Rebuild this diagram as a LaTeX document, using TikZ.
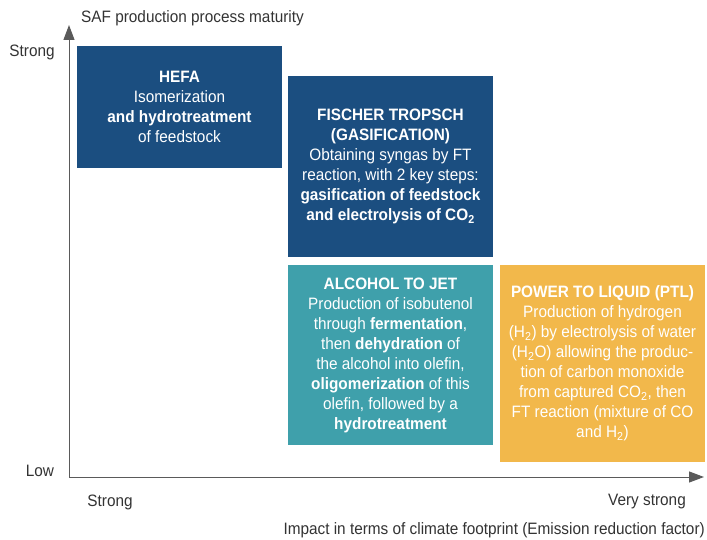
\documentclass[tikz,border=0pt]{standalone}
\usepackage{fontspec}
\setmainfont{Liberation Sans}[FakeStretch=0.93]
\usetikzlibrary{arrows.meta}
\definecolor{hefablue}{HTML}{1B4E80}
\definecolor{jetteal}{HTML}{3FA0AB}
\definecolor{ptlyellow}{HTML}{F2B84B}
\definecolor{axisgray}{HTML}{5A5A5A}
\definecolor{lblgray}{HTML}{333333}
\tikzset{
  procbox/.style={fill=#1, text=white, align=center, inner sep=0pt,
    minimum width=205pt, font=\fontsize{16.5}{20}\selectfont},
  axislbl/.style={text=lblgray, inner sep=0pt, font=\fontsize{16.5}{18}\selectfont},
}

\begin{document}
\begin{tikzpicture}[x=1pt, y=-1pt]
  \useasboundingbox (0,0) rectangle (707,540);
  \coordinate (orig) at (69,477);
  \coordinate (yend) at (69,25);
  \coordinate (xend) at (704,477);
  \draw[axisgray, line width=1pt, -{Triangle[length=15pt, width=11pt]}] (orig) -- (yend);
  \draw[axisgray, line width=1pt, -{Triangle[length=15pt, width=11pt]}] (orig) -- (xend);
  \node[procbox=hefablue, minimum height=122pt] (hefa) at (179.5,107)
    {\textbf{HEFA}\\Isomerization\\\textbf{and hydrotreatment}\\of feedstock};
  \node[procbox=hefablue, minimum height=181.5pt] (fischer) at (390.5,166.75)
    {\textbf{FISCHER TROPSCH}\\\textbf{(GASIFICATION)}\\Obtaining syngas by FT\\reaction, with 2 key steps:\\
     \textbf{gasification of feedstock}\\\textbf{and electrolysis of CO\textsubscript{2}}};
  \node[procbox=jetteal, minimum height=180pt] (alcohol) at (390.5,355)
    {\textbf{ALCOHOL TO JET}\\Production of isobutenol\\through \textbf{fermentation},\\then \textbf{dehydration} of\\
     the alcohol into olefin,\\\textbf{oligomerization} of this\\olefin, followed by a\\\textbf{hydrotreatment}};
  \node[procbox=ptlyellow, minimum height=197pt] (ptl) at (602.5,363.5)
    {\textbf{POWER TO LIQUID (PTL)}\\Production of hydrogen\\(H\textsubscript{2}) by electrolysis of water\\
     (H\textsubscript{2}O) allowing the produc-\\tion of carbon monoxide\\from captured CO\textsubscript{2}, then\\
     FT reaction (mixture of CO\\and H\textsubscript{2})};
  \node[axislbl, anchor=west] (ytitle) at (81,18) {SAF production process maturity};
  \node[axislbl] (ystrong) at (32,52) {Strong};
  \node[axislbl] (ylow) at (40,471) {Low};
  \node[axislbl] (xstrong) at (110,502) {Strong};
  \node[axislbl] (xvstrong) at (647,502) {Very strong};
  \node[axislbl, anchor=east] (xtitle) at (705,530) {Impact in terms of climate footprint (Emission reduction factor)};
\end{tikzpicture}
\end{document}
